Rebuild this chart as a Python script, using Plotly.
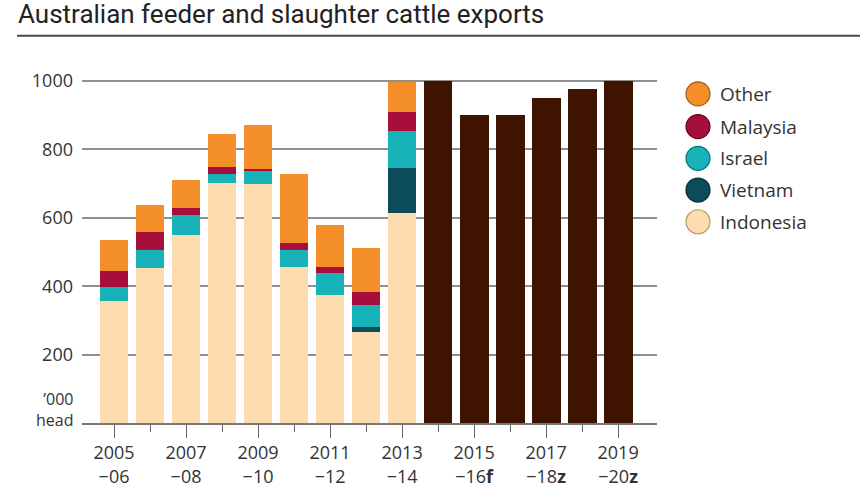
import plotly.graph_objects as go

# ---- data ----
periods = ["2005–06", "2006–07", "2007–08", "2008–09", "2009–10", "2010–11", "2011–12",
           "2012–13", "2013–14", "2014–15", "2015–16f", "2016–17z", "2017–18z", "2018–19z", "2019–20z"]
tick_labels = ["2005<br>−06", "2007<br>−08", "2009<br>−10", "2011<br>−12", "2013<br>−14",
               "2015<br>−16<b>f</b>", "2017<br>−18<b>z</b>", "2019<br>−20<b>z</b>"]
indonesia = [358, 452, 549, 702, 698, 455, 375, 266, 614]
vietnam   = [0, 0, 0, 0, 0, 0, 0, 15, 131]
israel    = [41, 54, 58, 25, 41, 50, 63, 64, 110]
malaysia  = [46, 51, 23, 21, 3, 20, 17, 39, 54]
other     = [89, 81, 80, 97, 128, 202, 124, 128, 89]
totals    = [1000, 900, 900, 950, 976, 1000]   # 2014-15 .. 2019-20 (no breakdown)
y_ticks   = [200, 400, 600, 800, 1000]

colors = {
    "Indonesia": "#FDDCB0",
    "Vietnam": "#0D4C5B",
    "Israel": "#17B2B8",
    "Malaysia": "#A70E3C",
    "Other": "#F48E29",
}
outline = {
    "Indonesia": "#B8966A",
    "Vietnam": "#06303A",
    "Israel": "#0E7478",
    "Malaysia": "#5E0620",
    "Other": "#9C5A14",
}
dark = "#3E1400"

n_hist = len(indonesia)
x_hist = list(range(n_hist))
x_fore = list(range(n_hist, n_hist + len(totals)))

fig = go.Figure()
for name, vals in [("Indonesia", indonesia), ("Vietnam", vietnam), ("Israel", israel),
                   ("Malaysia", malaysia), ("Other", other)]:
    fig.add_trace(go.Bar(x=x_hist, y=vals, name=name, marker=dict(color=colors[name], line=dict(width=0)),
                         showlegend=False, hovertext=periods[:n_hist]))
fig.add_trace(go.Bar(x=x_fore, y=totals, name="Total", marker=dict(color=dark, line=dict(width=0)),
                     showlegend=False, hovertext=periods[n_hist:]))

# plot-area geometry in pixels
L, R, T, B = 82, 657, 78, 426
W, H = 860, 500
def px(xp):
    return (xp - L) / (R - L)
def py(yp):
    return (B - yp) / (B - T)

font_main = "Open Sans, Lato, sans-serif"

# title + rule
fig.add_annotation(text="Australian feeder and slaughter cattle exports", xref="paper", yref="paper",
                   x=px(16), y=py(13), xanchor="left", yanchor="middle", showarrow=False,
                   font=dict(family="Liberation Sans Narrow, Roboto, sans-serif", size=26, color="#222"))
fig.add_shape(type="line", xref="paper", yref="paper", x0=px(17), x1=px(860), y0=py(35.5), y1=py(35.5),
              line=dict(color="#4a4a4a", width=2))

# legend (circles + labels)
legend_order = ["Other", "Malaysia", "Israel", "Vietnam", "Indonesia"]
legend_y = [94, 127, 159, 191, 223]
for name, ly in zip(legend_order, legend_y):
    fig.add_shape(type="circle", xref="paper", yref="paper", xsizemode="pixel", ysizemode="pixel",
                  xanchor=px(698), yanchor=py(ly), x0=-12, x1=12, y0=-12, y1=12,
                  fillcolor=colors[name], line=dict(color=outline[name], width=1.2))
    fig.add_annotation(text=name, xref="paper", yref="paper", x=px(718), y=py(ly),
                       xanchor="left", yanchor="middle", showarrow=False,
                       font=dict(family=font_main, size=19, color="#333"))

# y-axis unit label at zero
fig.add_annotation(text="’000<br>head", xref="paper", yref="paper", x=px(75), y=py(436),
                   xanchor="right", yanchor="bottom", align="right", showarrow=False,
                   font=dict(family=font_main, size=16, color="#333"))

fig.update_layout(
    width=W, height=H,
    margin=dict(l=L, r=W - R, t=T, b=H - B),
    barmode="stack", bargap=0.2,
    plot_bgcolor="white", paper_bgcolor="white",
    font=dict(family=font_main, size=18, color="#333"),
    showlegend=False,
    xaxis=dict(
        range=[-0.89, 15.08], tickmode="array",
        tickvals=list(range(0, 15, 2)), ticktext=tick_labels,
        ticks="outside", ticklen=13, tickwidth=1.3, tickcolor="#666",
        showgrid=False, zeroline=False,
        showline=True, linecolor="#777", linewidth=1.5,
        minor=dict(tickmode="array", tickvals=list(range(1, 15, 2)), ticks="outside",
                   ticklen=7, tickwidth=1.3, tickcolor="#666", showgrid=False),
        tickfont=dict(size=18, color="#333"),
        fixedrange=True,
    ),
    yaxis=dict(
        range=[0, (B - T) / 0.345], tickmode="array", tickvals=y_ticks,
        ticktext=[str(v) for v in y_ticks],
        showgrid=True, gridcolor="#8f8f8f", gridwidth=1.5,
        zeroline=False, ticks="", ticklabelstandoff=8,
        tickfont=dict(size=18, color="#333"),
        fixedrange=True,
    ),
)

fig.write_html("out.html")
